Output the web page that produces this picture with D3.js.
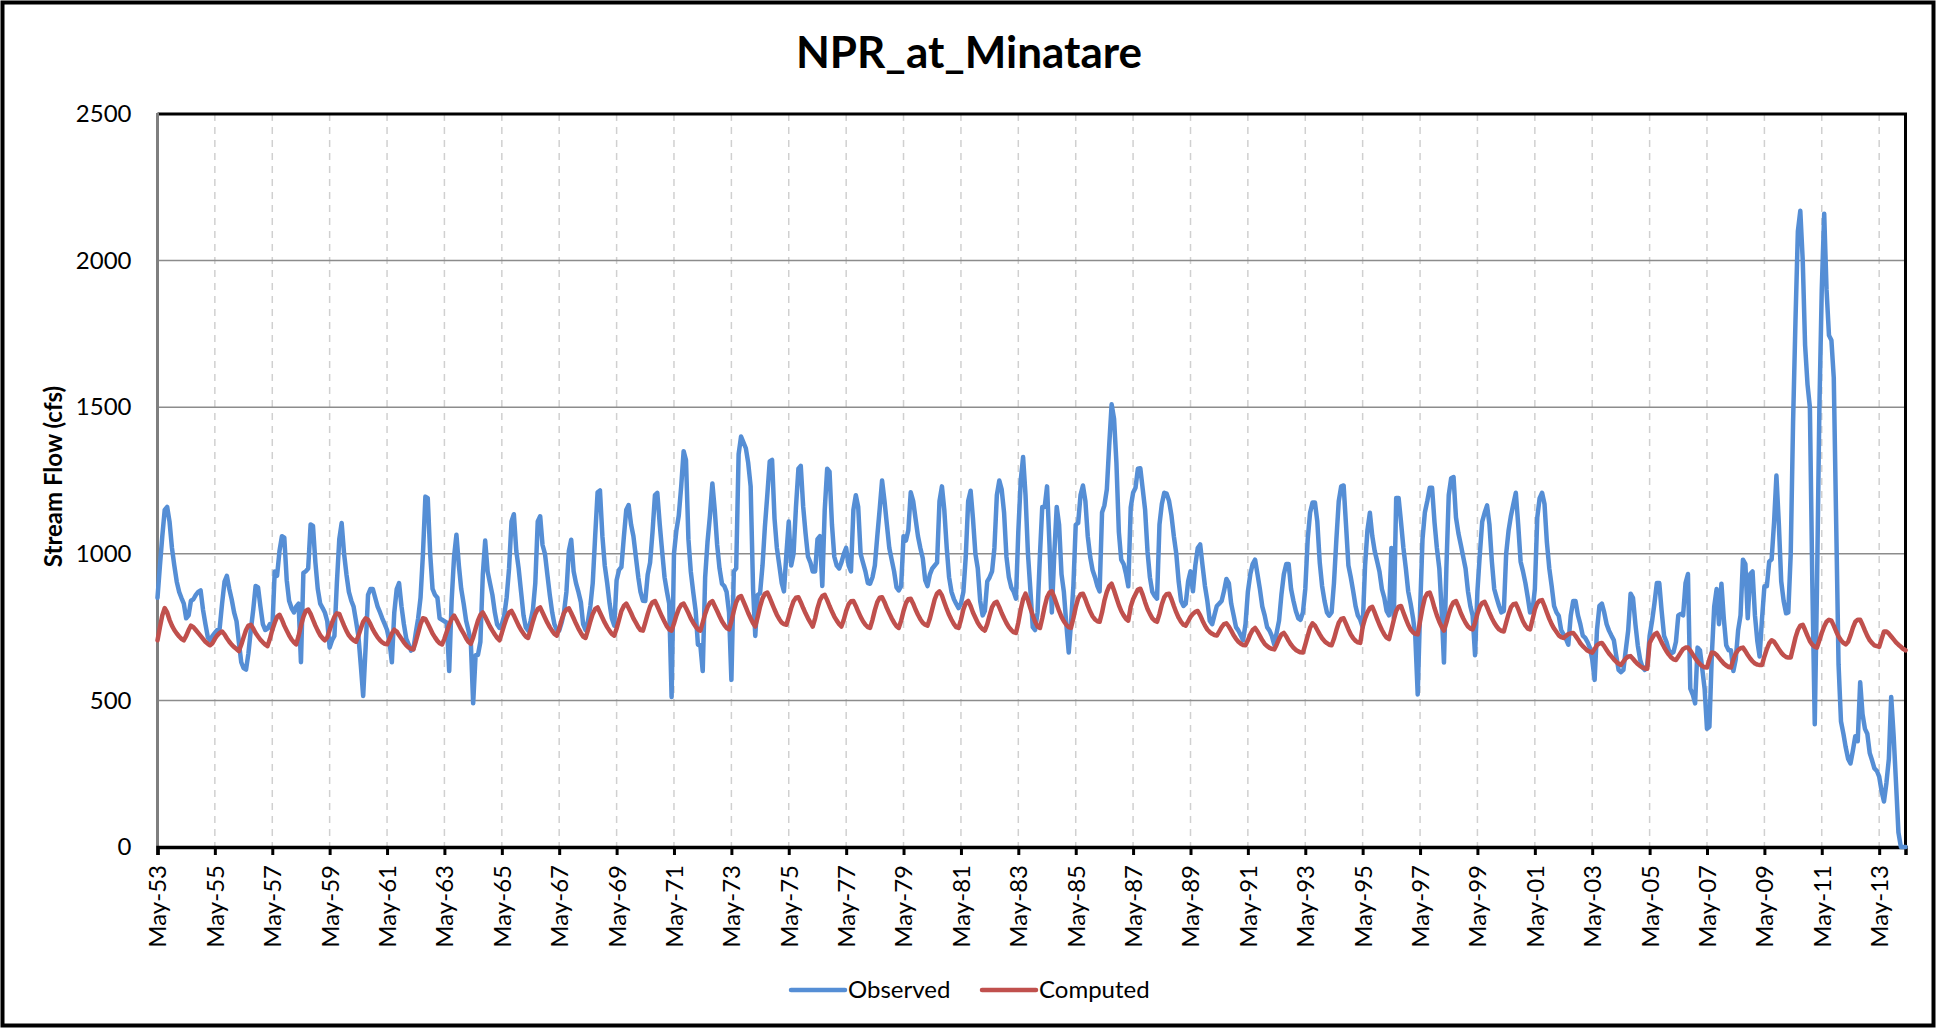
<!DOCTYPE html>
<html>
<head>
<meta charset="utf-8">
<script src="https://cdn.jsdelivr.net/npm/d3@7"></script>
<style>
  html, body { margin: 0; padding: 0; background: #fff; }
  svg { display: block; }
  text { font-family: Lato, "Open Sans", "Liberation Sans", sans-serif; fill: #000; }
</style>
</head>
<body>
<svg id="chart" width="1944" height="1029"></svg>
<script>
// ---------------- data ----------------
const chartTitle = "NPR_at_Minatare";
const yAxisTitle = "Stream Flow (cfs)";
const seriesNames = ["Observed", "Computed"];
const startYear = 1953, startMonth = 4; // May 1953, monthly values
const yTicks = [0, 500, 1000, 1500, 2000, 2500];
const tickLabels = ["May-53","May-55","May-57","May-59","May-61","May-63","May-65","May-67","May-69","May-71",
  "May-73","May-75","May-77","May-79","May-81","May-83","May-85","May-87","May-89","May-91",
  "May-93","May-95","May-97","May-99","May-01","May-03","May-05","May-07","May-09","May-11","May-13"];

const observed = [
  850,960,1060,1150,1160,1110,1020,960,905,870,850,830,
  780,790,840,845,860,870,875,810,760,715,705,720,
  730,740,745,830,905,925,880,845,800,770,700,630,
  610,605,660,740,810,890,885,820,760,740,745,760,
  740,940,925,1010,1060,1055,910,840,815,800,820,830,
  630,935,940,950,1100,1095,970,880,830,815,800,770,
  680,705,720,900,1050,1105,1000,930,870,840,820,770,
  720,620,515,680,860,880,880,850,820,800,780,760,
  740,700,630,800,880,900,820,760,710,690,670,675,
  730,780,850,1000,1195,1190,1000,880,860,850,780,775,
  770,765,600,840,990,1065,960,880,830,772,740,700,
  490,654,655,700,930,1045,940,900,860,800,760,747,
  760,790,850,950,1110,1135,1010,950,870,790,750,738,
  770,810,900,1110,1128,1030,1000,930,860,800,760,740,
  738,765,800,870,1010,1048,940,900,870,835,760,740,
  770,822,900,1060,1210,1216,1060,960,900,830,780,755,
  910,945,955,1057,1150,1166,1100,1060,990,920,870,840,
  839,930,970,1074,1200,1208,1100,1010,920,870,830,512,
  1000,1080,1130,1230,1350,1320,1050,940,870,805,690,688,
  600,920,1040,1130,1240,1150,1030,950,898,889,870,800,
  570,940,950,1340,1400,1380,1360,1310,1230,880,720,860,
  865,960,1090,1200,1315,1320,1120,1020,960,900,872,1000,
  1110,960,1000,1160,1290,1300,1160,1070,990,970,940,940,
  1050,1060,890,1150,1290,1280,1100,990,960,950,970,1000,
  1020,960,940,1150,1200,1160,1000,970,940,900,898,920,
  960,1060,1150,1250,1180,1100,1020,980,940,885,875,890,
  1060,1045,1080,1210,1180,1120,1060,1020,985,910,890,930,
  950,960,970,1180,1230,1150,1020,920,870,845,830,815,
  830,870,990,1180,1215,1120,1000,950,839,790,805,906,
  920,940,1020,1200,1250,1220,1140,990,920,885,872,847,
  1074,1250,1330,1200,1000,880,750,740,800,1000,1160,1160,
  1230,1030,800,1000,1160,1100,930,870,760,663,760,890,
  1099,1105,1200,1233,1180,1060,990,945,920,890,872,1141,
  1165,1220,1370,1510,1460,1310,1074,980,965,930,889,1158,
  1208,1225,1290,1292,1220,1150,1007,920,870,856,847,1100,
  1170,1208,1205,1180,1130,1060,1000,906,839,822,830,906,
  940,872,960,1020,1032,960,890,840,772,760,790,822,
  830,839,872,914,900,830,790,750,738,721,705,760,
  870,930,965,980,930,880,820,790,750,738,720,690,
  730,772,860,930,965,965,880,840,805,780,775,800,
  880,1050,1140,1175,1175,1110,970,890,839,800,789,800,
  900,1050,1180,1230,1233,1100,960,920,872,820,790,775,
  750,960,1080,1140,1060,1010,975,940,880,850,805,790,
  1020,780,1190,1190,1107,1020,950,872,830,780,720,520,
  805,1050,1141,1180,1225,1225,1107,1020,950,800,629,950,
  1200,1258,1262,1124,1070,1032,990,950,872,820,790,654,
  872,1000,1110,1140,1165,1100,973,880,850,822,800,805,
  1000,1080,1130,1170,1208,1100,973,940,900,850,800,805,
  880,1124,1190,1208,1170,1040,950,890,822,800,789,740,
  725,710,690,789,839,839,790,760,721,713,700,680,
  640,570,740,822,830,800,760,738,721,705,654,604,
  596,604,671,738,864,850,760,688,638,612,604,621,
  720,770,830,900,900,805,720,700,671,660,665,700,
  790,795,790,900,931,540,520,490,680,671,610,540,
  403,410,650,820,880,760,898,780,688,671,671,600,
  640,740,790,980,965,780,931,940,789,700,650,780,
  889,889,973,981,1107,1267,1100,906,839,797,800,1000,
  1450,1800,2100,2170,2000,1711,1577,1500,900,419,880,1500,
  1900,2160,1900,1745,1728,1600,1100,621,428,386,340,300,
  285,330,378,361,562,453,403,386,320,294,268,260,
  240,190,155,218,300,512,380,220,50,0,0,0
];

const computed = [
  705,750,790,815,800,775,755,740,728,718,710,705,
  720,740,755,750,740,730,720,710,700,693,688,695,
  710,722,730,735,725,712,700,690,682,675,668,690,
  715,740,755,758,745,730,718,707,698,690,685,710,
  740,765,785,792,775,755,738,722,708,698,691,720,
  755,785,805,810,795,775,755,738,722,712,705,715,
  740,765,785,797,795,775,755,737,722,712,705,700,
  720,745,768,780,775,760,742,728,715,705,698,693,
  691,710,728,741,735,722,710,698,688,680,676,674,
  700,730,760,780,778,762,745,728,715,703,695,691,
  710,735,758,778,789,775,758,742,728,712,700,693,
  715,745,772,792,800,785,768,752,738,725,714,705,
  730,758,782,800,805,790,772,755,740,728,718,713,
  740,770,795,812,817,800,782,765,750,737,727,721,
  745,775,798,810,814,798,780,762,745,730,718,713,
  740,770,795,812,817,800,782,765,750,737,727,721,
  745,775,805,822,830,815,798,780,765,750,740,738,
  765,795,820,835,839,822,803,785,768,752,742,738,
  762,790,812,826,830,815,798,780,765,752,742,738,
  765,795,818,833,839,822,805,787,770,757,747,742,
  770,805,835,852,856,838,818,798,780,763,752,785,
  820,848,864,868,850,830,810,792,777,765,760,758,
  785,815,838,850,852,835,815,797,780,765,752,780,
  815,842,856,860,842,822,803,786,772,760,752,775,
  805,828,838,839,822,803,785,770,758,750,747,775,
  808,835,850,852,835,815,797,780,765,753,747,772,
  805,832,845,847,830,810,792,777,765,758,755,780,
  812,845,865,872,858,835,812,792,775,760,750,747,
  775,810,832,839,822,800,782,765,752,743,738,760,
  790,818,832,836,818,798,780,764,750,740,733,730,
  765,810,845,864,842,815,790,768,752,747,780,820,
  852,868,872,852,828,805,785,770,758,750,747,780,
  818,848,862,864,845,823,803,787,776,770,768,800,
  840,870,890,898,875,850,825,805,790,778,772,820,
  845,862,878,881,860,835,812,795,780,772,768,795,
  828,852,862,864,845,822,800,782,768,758,755,770,
  785,795,802,805,790,772,755,742,733,727,723,721,
  735,750,760,763,752,738,722,710,700,693,689,688,
  705,725,740,747,735,720,705,693,685,679,676,674,
  690,710,725,730,718,703,690,680,672,667,664,663,
  690,720,748,763,755,740,725,712,702,695,690,688,
  710,740,765,778,780,762,742,725,712,703,698,696,
  750,780,800,815,819,800,778,758,740,725,714,709,
  740,775,805,820,822,800,778,758,742,732,727,725,
  770,815,850,865,868,845,815,790,768,750,738,765,
  795,820,835,839,820,798,780,765,752,745,742,765,
  795,820,832,836,818,798,780,765,752,742,737,735,
  765,795,818,828,830,812,790,770,755,745,742,775,
  810,832,840,842,822,800,778,760,745,733,722,716,
  713,720,726,729,730,720,708,695,685,677,670,666,
  663,675,688,694,696,685,672,660,650,640,632,625,
  621,632,643,650,651,642,632,624,617,612,609,608,
  696,712,725,730,715,698,682,668,656,646,640,638,
  650,663,675,680,680,670,657,645,633,624,617,613,
  612,640,663,662,655,645,635,626,619,614,612,640,
  660,672,678,680,668,655,643,633,626,622,621,621,
  650,675,695,705,700,688,675,663,654,648,646,646,
  680,715,740,755,758,740,720,702,690,683,680,705,
  730,752,768,775,772,755,735,718,705,696,691,700,
  722,748,768,775,775,758,738,720,705,695,688,685,
  683,710,735,735,728,718,708,698,690,683,676,671
];

const colors = { Observed: "#558ED5", Computed: "#C0504D" };

// ---------------- layout ----------------
const svg = d3.select("#chart");
const W = 1944, H = 1029;
const plot = { left: 157.5, right: 1905.5, top: 114, bottom: 847 };

const n = Math.min(observed.length, computed.length);
const dates = d3.range(n).map(i => new Date(startYear, startMonth + i, 1));
const x = d3.scaleTime().domain([dates[0], dates[n - 1]]).range([plot.left, plot.right]);
const y = d3.scaleLinear().domain([0, 2500]).range([plot.bottom, plot.top]);
const tickDates = tickLabels.map((l, k) => new Date(startYear + 2 * k, startMonth, 1));

// background + outer border
svg.append("rect").attr("x", 0).attr("y", 0).attr("width", W).attr("height", H).attr("fill", "#fff");
svg.append("rect").attr("x", 2.5).attr("y", 2.5).attr("width", 1931).attr("height", 1023)
  .attr("fill", "none").attr("stroke", "#000").attr("stroke-width", 4);

// title
svg.append("text").attr("x", 969).attr("y", 68).attr("text-anchor", "middle")
  .attr("font-size", 44).attr("font-weight", 700).text(chartTitle);

// vertical dashed gridlines
svg.append("g").selectAll("line").data(tickDates.slice(1)).join("line")
  .attr("x1", d => x(d)).attr("x2", d => x(d))
  .attr("y1", plot.top).attr("y2", plot.bottom)
  .attr("stroke", "#D0D0D0").attr("stroke-width", 1.5).attr("stroke-dasharray", "7,6");

// horizontal gridlines
svg.append("g").selectAll("line").data(yTicks.filter(v => v > 0 && v < 2500)).join("line")
  .attr("x1", plot.left).attr("x2", plot.right)
  .attr("y1", d => y(d)).attr("y2", d => y(d))
  .attr("stroke", "#8C8C8C").attr("stroke-width", 1.5);

// plot border top/right
svg.append("path")
  .attr("d", `M${plot.left},${plot.top}H${plot.right}V${plot.bottom}`)
  .attr("fill", "none").attr("stroke", "#000").attr("stroke-width", 3);

// left axis line
svg.append("line").attr("x1", plot.left).attr("x2", plot.left)
  .attr("y1", plot.top - 1).attr("y2", plot.bottom)
  .attr("stroke", "#7F7F7F").attr("stroke-width", 3);

// y axis labels
const yAxis = d3.axisLeft(y).tickValues(yTicks).tickSize(0).tickPadding(26).tickFormat(d3.format("d"));
const gy = svg.append("g").attr("transform", `translate(${plot.left},0)`).call(yAxis);
gy.select(".domain").remove();
gy.selectAll("text").attr("font-size", 24).attr("font-family", "Lato, sans-serif").attr("fill", "#000");

// x axis
const xAxis = d3.axisBottom(x).tickValues(tickDates).tickSize(8).tickFormat((d, i) => tickLabels[i]);
const gx = svg.append("g").attr("transform", `translate(0,${plot.bottom})`).call(xAxis);
gx.select(".domain").attr("stroke", "#000").attr("stroke-width", 3.5);
gx.selectAll(".tick line").attr("stroke", "#000").attr("stroke-width", 3);
gx.selectAll(".tick text")
  .attr("font-size", 24).attr("font-family", "Lato, sans-serif").attr("fill", "#000")
  .attr("transform", "rotate(-90)")
  .attr("text-anchor", "end")
  .attr("x", -18).attr("y", 0).attr("dy", "0.35em");

// y-axis title
svg.append("text").attr("transform", `translate(54,${(plot.top + plot.bottom) / 2 - 4}) rotate(-90)`)
  .attr("text-anchor", "middle").attr("dy", "0.35em")
  .attr("font-size", 24).attr("font-weight", 700).text(yAxisTitle);

// series lines
const series = [
  { name: "Observed", values: observed },
  { name: "Computed", values: computed }
];
const line = d3.line().x((d, i) => x(dates[i])).y(d => y(d)).curve(d3.curveLinear);
svg.append("g").selectAll("path").data(series).join("path")
  .attr("d", s => line(s.values.slice(0, n)))
  .attr("fill", "none")
  .attr("stroke", s => colors[s.name])
  .attr("stroke-width", 4.5)
  .attr("stroke-linejoin", "round")
  .attr("stroke-linecap", "round");

// legend
const legend = svg.append("g");
const legendItems = [
  { name: seriesNames[0], x0: 791 },
  { name: seriesNames[1], x0: 982 }
];
legendItems.forEach(it => {
  legend.append("line").attr("x1", it.x0).attr("x2", it.x0 + 54).attr("y1", 990).attr("y2", 990)
    .attr("stroke", colors[it.name]).attr("stroke-width", 4.5).attr("stroke-linecap", "round");
  legend.append("text").attr("x", it.x0 + 57).attr("y", 990).attr("dy", "0.35em")
    .attr("font-size", 24).text(it.name);
});
</script>
</body>
</html>
